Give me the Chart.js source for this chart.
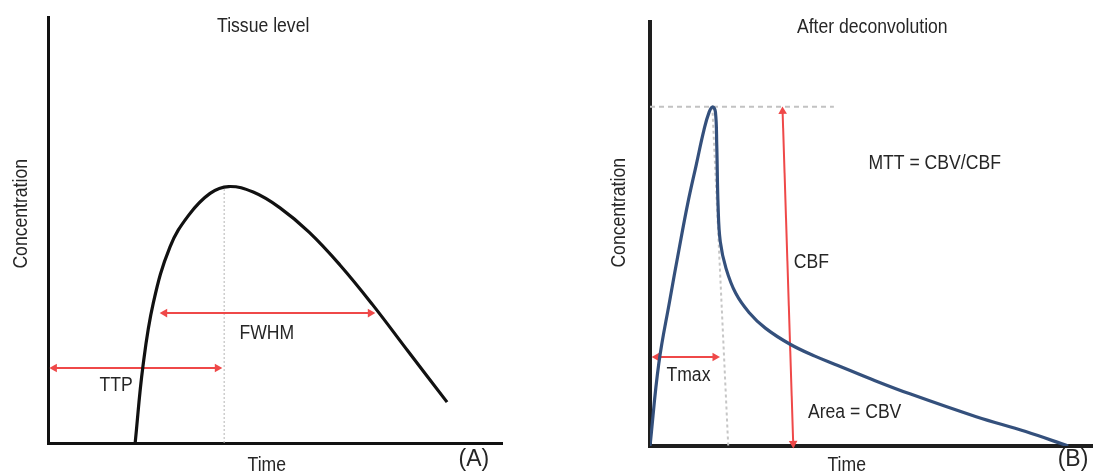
<!DOCTYPE html>
<html><head><meta charset="utf-8">
<script src="https://cdn.jsdelivr.net/npm/chart.js@4.4.1/dist/chart.umd.min.js"></script>
<style>
html,body{margin:0;padding:0;background:#fff;}
#wrap{position:relative;width:1097px;height:474px;overflow:hidden;background:#fff;}
canvas{position:absolute;top:0;}
#cA{left:0;} #cB{left:548px;}
</style></head><body>
<div id="wrap"><canvas id="cA" width="548" height="474"></canvas><canvas id="cB" width="549" height="474"></canvas></div>
<script>
// ---------- Panel A: tissue level concentration curve (arbitrary units) ----------
const tissueTime = [19.2, 20.9, 23.2, 26.9, 31.0, 35.7, 39.8, 45.2, 51.1, 57.5, 64.3, 71.4, 79.4, 87.9];
const tissueConc = [0, 17.9, 32.9, 46.1, 53.5, 58.6, 60.2, 58.9, 55.2, 49.5, 41.8, 32.6, 21.4, 9.6];
const peakLineATime = [38.8, 38.8];
const peakLineAConc = [0, 60.1];
const ttpTime = [1.4, 37.3];
const ttpConc = [17.6, 17.6];
const fwhmTime = [25.7, 71.0];
const fwhmConc = [30.5, 30.5];

// ---------- Panel B: residue function after deconvolution ----------
const residueTime = [0, 2.0, 4.5, 6.5, 8.5, 10.5, 12.2, 13.4, 14.2, 14.8, 15.1, 15.4, 15.9, 17.2, 19.4, 22.4, 26.1, 31.7, 37.3, 42.5, 50.0, 58.8, 73.8, 85.0, 94.6];
const residueConc = [0, 19.5, 34.5, 46.0, 57.0, 66.5, 74.5, 78.8, 80.0, 78.8, 71.0, 56.8, 48.2, 41.9, 36.0, 31.5, 27.8, 24.0, 21.2, 19.0, 15.8, 12.3, 6.9, 3.4, 0];
const peakHLineTime = [0, 41.6];
const peakHLineConc = [80.0, 80.0];
const peakVLineTime = [14.1, 17.7];
const peakVLineConc = [80.0, 0];
const tmaxTime = [1.5, 14.7];
const tmaxConc = [21.0, 21.0];
const cbfTime = [32.4, 30.0];
const cbfConc = [0.6, 78.9];

// text labels
const textA = ['Tissue level', 'FWHM', 'TTP', 'Concentration', 'Time', '(A)'];
const textB = ['After deconvolution', 'MTT = CBV/CBF', 'CBF', 'Tmax', 'Area = CBV', 'Concentration', 'Time', '(B)'];

const pts = (xs, ys) => xs.map((v, i) => ({x: v, y: ys[i]}));
const FONT = '"Liberation Sans", Arial, Helvetica, sans-serif';
const RED = '#ef4848';

function textPlugin(items) {
  return {
    id: 'texts',
    afterDraw(chart) {
      const {ctx, scales: {x, y}} = chart;
      items.forEach(it => {
        ctx.save();
        ctx.translate(x.getPixelForValue(it.x), y.getPixelForValue(it.y));
        if (it.rot) ctx.rotate(it.rot);
        ctx.scale(it.sq == null ? 0.88 : it.sq, 1);
        ctx.font = (it.size || 20) + 'px ' + FONT;
        ctx.fillStyle = '#262626';
        ctx.textAlign = 'center';
        ctx.textBaseline = 'middle';
        ctx.fillText(it.text, 0, 0);
        ctx.restore();
      });
    }
  };
}

function arrowSet(xs, ys, rots) {
  return {
    data: pts(xs, ys), borderColor: RED, backgroundColor: RED, borderWidth: 2,
    pointStyle: 'triangle', pointRadius: 5, pointBorderWidth: 0, pointRotation: rots,
    clip: false, order: 1
  };
}

function makeChart(id, datasets, area, canvasW, axisW, axisColor, texts) {
  new Chart(document.getElementById(id), {
    type: 'line',
    data: {datasets},
    options: {
      responsive: false, animation: false, events: [],
      layout: {padding: {left: 0, top: area.top, right: canvasW - area.right, bottom: 0}},
      plugins: {legend: {display: false}, tooltip: {enabled: false}, title: {display: false}},
      scales: {
        x: {type: 'linear', min: 0, max: 100, grid: {display: false}, ticks: {display: false},
            border: {display: true, color: axisColor, width: axisW},
            afterFit: s => { s.height = 474 - area.bottom; }},
        y: {type: 'linear', min: 0, max: 100, grid: {display: false}, ticks: {display: false},
            border: {display: true, color: axisColor, width: axisW},
            afterFit: s => { s.width = area.left; }}
      }
    },
    plugins: [textPlugin(texts)]
  });
}

// Panel A
makeChart('cA', [
  {data: pts(tissueTime, tissueConc), borderColor: '#111', borderWidth: 3.2, pointRadius: 0,
   tension: 0.4, order: 0},
  {data: pts(peakLineATime, peakLineAConc), borderColor: '#b5b5b5', borderWidth: 1, borderDash: [2, 2], pointRadius: 0, order: 2},
  arrowSet(ttpTime, ttpConc, [270, 90]),
  arrowSet(fwhmTime, fwhmConc, [270, 90])
], {left: 48, top: 17, right: 502, bottom: 443}, 548, 3, '#111', [
  {text: textA[0], x: 47.4, y: 97.7},
  {text: textA[1], x: 48.2, y: 25.8},
  {text: textA[2], x: 15.0, y: 13.6},
  {text: textA[3], x: -5.9, y: 53.8, rot: -Math.PI / 2},
  {text: textA[4], x: 48.2, y: -5.2},
  {text: textA[5], x: 93.8, y: -4.0, sq: 1, size: 23}
]);

// Panel B
makeChart('cB', [
  {data: pts(residueTime, residueConc), borderColor: '#34507c', borderWidth: 3.2, pointRadius: 0,
   tension: 0.4, order: 0},
  {data: pts(peakHLineTime, peakHLineConc), borderColor: '#c2c2c2', borderWidth: 2, borderDash: [5, 4], pointRadius: 0, order: 2},
  {data: pts(peakVLineTime, peakVLineConc), borderColor: '#c6c6c6', borderWidth: 2, borderDash: [3, 3], pointRadius: 0, order: 2},
  arrowSet(tmaxTime, tmaxConc, [270, 90]),
  arrowSet(cbfTime, cbfConc, [178, -2])
], {left: 102, top: 22, right: 549, bottom: 446}, 549, 4, '#1e1e1e', [
  {text: textB[0], x: 50.3, y: 98.8},
  {text: textB[1], x: 64.4, y: 66.7},
  {text: textB[2], x: 36.5, y: 43.2},
  {text: textB[3], x: 8.7, y: 16.7},
  {text: textB[4], x: 46.3, y: 8.0},
  {text: textB[5], x: -6.9, y: 55.0, rot: -Math.PI / 2},
  {text: textB[6], x: 44.5, y: -4.5},
  {text: textB[7], x: 95.7, y: -3.3, sq: 1, size: 23}
]);
</script>
</body></html>
